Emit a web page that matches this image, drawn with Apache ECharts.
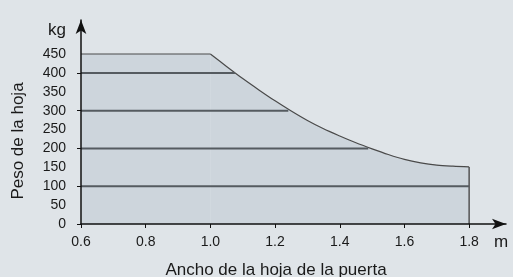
<!DOCTYPE html>
<html style="height: 100%">
<head>
<meta charset="utf-8">
<script src="https://cdn.jsdelivr.net/npm/echarts@6/dist/echarts.min.js"></script>
</head>
<body style="height: 100%; margin: 0; background: #dfe4e8">
<div id="container" style="width: 513px; height: 277px"></div>
<script>
// door leaf width (m) vs max leaf weight (kg)
var flatWidths  = [0.6, 1.0];
var flatWeights = [450, 450];
var widths  = [1.0, 1.05, 1.1, 1.15, 1.2, 1.25, 1.3, 1.35, 1.4, 1.45, 1.5, 1.55, 1.6, 1.65, 1.7, 1.75, 1.8];
var weights = [450, 417, 385, 355, 326, 299, 274, 252, 233, 215, 199, 184, 171, 162, 156, 153, 151];

// horizontal lines inside the area and where they meet the curve
var gridWeights = [100, 200, 300, 400];
var gridEnds    = [1.8, 1.488, 1.241, 1.076];

var xTicks = [0.6, 0.8, 1.0, 1.2, 1.4, 1.6, 1.8];
var yLabels = [0, 50, 100, 150, 200, 250, 300, 350, 400, 450];
var yTicks = [0, 100, 200, 300, 400];

var font = '"Liberation Sans", Arial, sans-serif';
var ink = '#1a1a1a';

var dom = document.getElementById('container');
var myChart = echarts.init(dom);

function pairs(xs, ys) {
    return xs.map(function (x, i) { return [x, ys[i]]; });
}

var areaLine = { color: '#4a4a4a', width: 1.2 };
var areaFill = { color: '#cdd5dc', opacity: 1 };

var series = [{
    type: 'line',
    data: pairs(flatWidths, flatWeights),
    symbol: 'none',
    silent: true,
    lineStyle: areaLine,
    areaStyle: areaFill,
    z: 2
}, {
    type: 'line',
    data: pairs(widths, weights),
    symbol: 'none',
    smooth: 0.3,
    silent: true,
    lineStyle: areaLine,
    areaStyle: areaFill,
    z: 2
}, {
    // right edge of the area
    type: 'line',
    data: [[widths[widths.length - 1], 0], [widths[widths.length - 1], weights[weights.length - 1]]],
    symbol: 'none',
    silent: true,
    lineStyle: { color: '#4a4a4a', width: 1.4 },
    z: 3
}];

gridWeights.forEach(function (w, i) {
    series.push({
        type: 'line',
        data: [[0.6, w], [gridEnds[i], w]],
        symbol: 'none',
        silent: true,
        lineStyle: { color: '#555b60', width: 2 },
        z: 3
    });
});

var option = {
    animation: false,
    backgroundColor: '#dfe4e8',
    grid: { left: 81, right: 7, top: 20, bottom: 53 },
    xAxis: {
        type: 'value',
        min: 0.6,
        max: 1.914,
        z: 10,
        axisLine: { lineStyle: { color: '#111', width: 1.5 }, symbol: ['none', 'arrow'], symbolSize: [8, 14] },
        axisTick: { customValues: xTicks, length: 4, lineStyle: { color: '#111' } },
        axisLabel: {
            customValues: xTicks, margin: 11, color: ink, fontSize: 14, fontFamily: font,
            formatter: function (v) { return v.toFixed(1); }
        },
        splitLine: { show: false }
    },
    yAxis: {
        type: 'value',
        min: 0,
        max: 540,
        z: 10,
        axisLine: { lineStyle: { color: '#111', width: 1.5 }, symbol: ['none', 'arrow'], symbolSize: [8, 14] },
        axisTick: { customValues: yTicks, length: 4, lineStyle: { color: '#111' } },
        axisLabel: { customValues: yLabels, margin: 15, color: ink, fontSize: 14, fontFamily: font },
        splitLine: { show: false }
    },
    graphic: [
        { type: 'text', x: 66, y: 30, style: { text: 'kg', font: '17px ' + font, fill: ink, textAlign: 'right', textVerticalAlign: 'middle' } },
        { type: 'text', x: 494, y: 242, style: { text: 'm', font: '17px ' + font, fill: ink, textAlign: 'left', textVerticalAlign: 'middle' } },
        { type: 'text', x: 276, y: 270, style: { text: 'Ancho de la hoja de la puerta', font: '17px ' + font, fill: ink, textAlign: 'center', textVerticalAlign: 'middle' } },
        { type: 'text', x: 18, y: 141, rotation: Math.PI / 2, style: { text: 'Peso de la hoja', font: '17px ' + font, fill: ink, textAlign: 'center', textVerticalAlign: 'middle' } }
    ],
    series: series
};

myChart.setOption(option);
</script>
</body>
</html>
